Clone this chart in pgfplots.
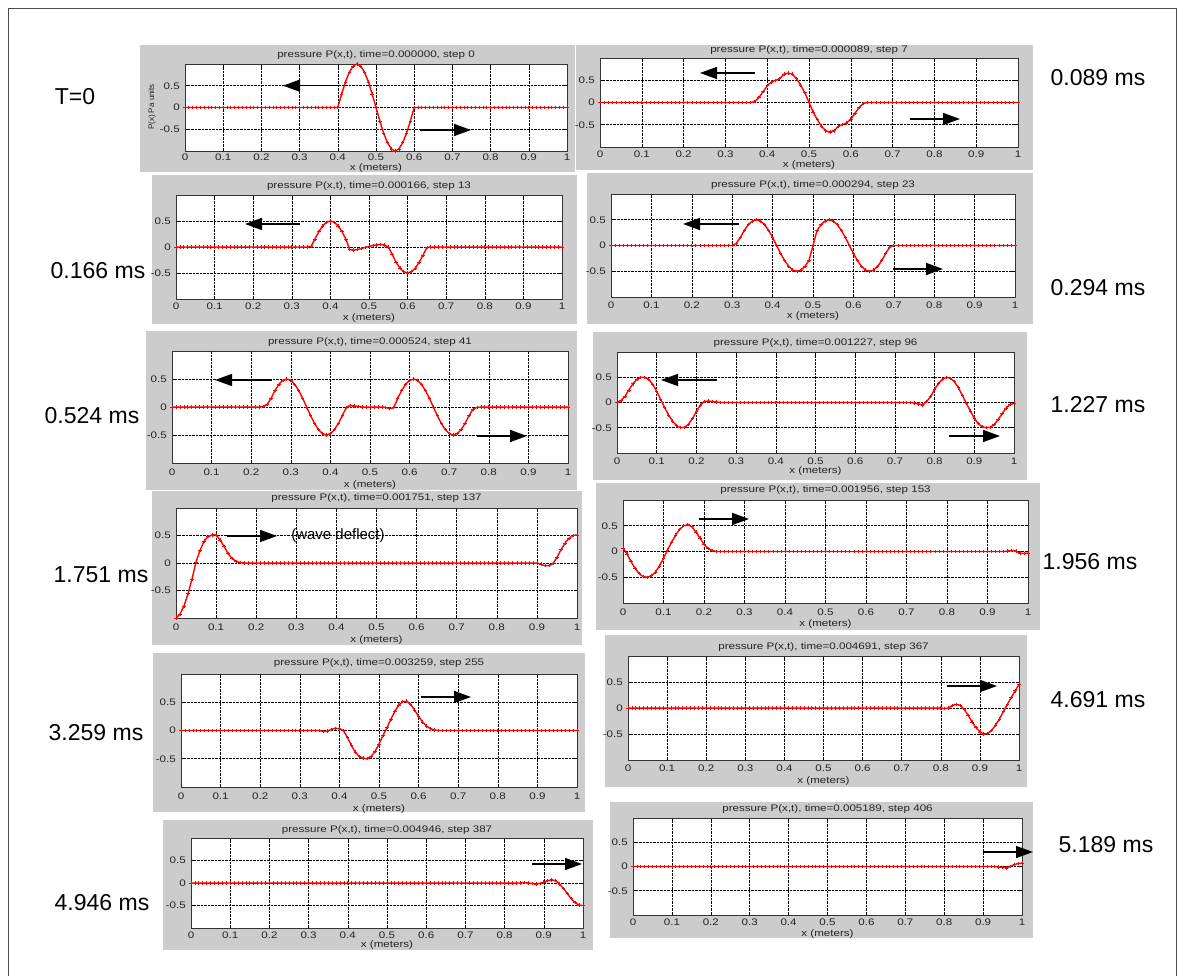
\documentclass[border=0pt]{standalone}
\usepackage{pgfplots}
\pgfplotsset{compat=1.18}
\usepackage{pgfplotstable}
\usepackage{fontspec}
\setmainfont{Liberation Sans}
\newfontfamily\pfont[FakeStretch=1.22]{Liberation Sans}
\usetikzlibrary{arrows.meta}
\definecolor{mgray}{RGB}{204,204,204}
\definecolor{mred}{RGB}{255,0,0}
\definecolor{tcol}{RGB}{35,35,35}
\pgfplotstableread{
x a b c d e f g h i j k l
0.00 0 0 0 0 0 0 -1 0.07 0 0 0 0
0.01 0 0 0 0 0 0.04 -0.93 -0.05 0 0 0 0
0.02 0 0 0 0 0 0.12 -0.78 -0.2 0 0 0 0
0.03 0 0 0 0 0 0.25 -0.56 -0.33 0 0 0 0
0.04 0 0 0 0 0 0.37 -0.29 -0.43 0 0 0 0
0.05 0 0 0 0 0 0.46 0.02 -0.49 0 0 0 0
0.06 0 0 0 0 0 0.5 0.23 -0.5 0 0 0 0
0.07 0 0 0 0 0 0.5 0.4 -0.47 0 0 0 0
0.08 0 0 0 0 0 0.46 0.48 -0.4 0 0 0 0
0.09 0 0 0 0 0 0.36 0.51 -0.28 0 0 0 0
0.10 0 0 0 0 0 0.22 0.51 -0.13 0 0 0 0
0.11 0 0 0 0 0 0.06 0.42 0.03 0 0 0 0
0.12 0 0 0 0 0 -0.1 0.3 0.18 0 0 0 0
0.13 0 0 0 0 0 -0.25 0.17 0.32 0 0 0 0
0.14 0 0 0 0 0 -0.37 0.08 0.43 0 0 0 0
0.15 0 0 0 0 0 -0.46 0.03 0.5 0 0 0 0
0.16 0 0 0 0 0 -0.5 0.01 0.52 0 0 0 0
0.17 0 0 0 0 0 -0.49 0 0.48 0 0 0 0
0.18 0 0 0 0 0 -0.43 0 0.38 0 0 0 0
0.19 0 0 0 0 0 -0.32 0 0.26 0 0 0 0
0.20 0 0 0 0 0 -0.18 0 0.14 0 0 0 0
0.21 0 0 0 0 0 -0.05 0 0.06 0 0 0 0
0.22 0 0 0 0 0 0.02 0 0.02 0 0 0 0
0.23 0 0 0 0 0.01 0.03 0 0 0 0 0 0
0.24 0 0 0 0 0.04 0.02 0 0 0 0 0 0
0.25 0 0 0 0 0.155 0.01 0 0 0 0 0 0
0.26 0 0 0 0 0.294 0 0 0 0 0 0 0
0.27 0 0 0 0 0.405 0 0 0 0 0 0 0
0.28 0 0 0 0 0.476 0 0 0 0 0 0 0
0.29 0 0 0 0 0.5 0 0 0 0 0 0 0
0.30 0 0 0 0 0.476 0 0 0 0 0 0 0
0.31 0 0 0 0.04 0.405 0 0 0 0 0 0 0
0.32 0 0 0 0.155 0.294 0 0 0 0 0 0 0
0.33 0 0 0 0.294 0.155 0 0 0 0 0 0 0
0.34 0 0 0 0.405 0 0 0 0 0 0 0 0
0.35 0 0 0.01 0.476 -0.155 0 0 0 0 0 0 0
0.36 0 0 0.155 0.5 -0.294 0 0 0 -0.02 0 0 0
0.37 0 0.02 0.294 0.476 -0.405 0 0 0 -0.01 0 0 0
0.38 0 0.109 0.405 0.405 -0.476 0 0 0 0.02 0 0 0
0.39 0 0.241 0.476 0.294 -0.5 0 0 0 0.04 0 0 0
0.40 0 0.375 0.5 0.155 -0.476 0 0 0 0.03 0 0 0
0.41 0.309 0.459 0.476 0 -0.405 0 0 0 0 0 0 0
0.42 0.588 0.498 0.405 -0.155 -0.294 0 0 0 -0.12 0 0 0
0.43 0.809 0.535 0.294 -0.294 -0.155 0 0 0 -0.26 0 0 0
0.44 0.951 0.637 0.155 -0.405 -0.01 0 0 0 -0.38 0 0 0
0.45 1 0.661 -0.05 -0.476 0.03 0 0 0 -0.46 0 0 0
0.46 0.951 0.637 -0.06 -0.5 0.02 0 0 0 -0.49 0 0 0
0.47 0.809 0.535 -0.05 -0.476 0.01 0 0 0 -0.5 0 0 0
0.48 0.588 0.389 -0.03 -0.405 0 0 0 0 -0.46 0 0 0
0.49 0.309 0.218 -0.01 -0.294 0 0 0 0 -0.37 0 0 0
0.50 0 0 0.01 0 0 0 0 0 -0.24 0 0 0
0.51 -0.309 -0.218 0.03 0.294 0 0 0 0 -0.09 0 0 0
0.52 -0.588 -0.389 0.04 0.405 0 0 0 0 0.05 0 0 0
0.53 -0.809 -0.535 0.05 0.476 0 0 0 0 0.2 0 0 0
0.54 -0.951 -0.637 0.04 0.5 -0.01 0 0 0 0.34 0 0 0
0.55 -1 -0.661 0 0.476 -0.03 0 0 0 0.45 0 0 0
0.56 -0.951 -0.637 -0.14 0.405 -0.01 0 0 0 0.51 0 0 0
0.57 -0.809 -0.535 -0.294 0.294 0.155 0 0 0 0.52 0 0 0
0.58 -0.588 -0.498 -0.405 0.155 0.294 0 0 0 0.46 0 0 0
0.59 -0.309 -0.459 -0.476 0 0.405 0 0 0 0.36 0 0 0
0.60 0 -0.375 -0.5 -0.155 0.476 0 0 0 0.25 0 0 0
0.61 0 -0.241 -0.476 -0.294 0.5 0 0 0 0.15 0 0 0
0.62 0 -0.109 -0.405 -0.405 0.476 0 0 0 0.08 0 0 0
0.63 0 -0.02 -0.294 -0.476 0.405 0 0 0 0.03 0 0 0
0.64 0 0 -0.155 -0.5 0.294 0 0 0 0.01 0 0 0
0.65 0 0 -0.01 -0.476 0.155 0 0 0 0 0 0 0
0.66 0 0 0 -0.405 0 0 0 0 0 0 0 0
0.67 0 0 0 -0.294 -0.155 0 0 0 0 0 0 0
0.68 0 0 0 -0.155 -0.294 0 0 0 0 0 0 0
0.69 0 0 0 -0.03 -0.405 0 0 0 0 0 0 0
0.70 0 0 0 0 -0.476 0 0 0 0 0 0 0
0.71 0 0 0 0 -0.5 0 0 0 0 0 0 0
0.72 0 0 0 0 -0.476 0 0 0 0 0 0 0
0.73 0 0 0 0 -0.405 0 0 0 0 0 0 0
0.74 0 0 0 0 -0.294 0 0 0 0 0 0 0
0.75 0 0 0 0 -0.155 -0.01 0 0 0 0 0 0
0.76 0 0 0 0 -0.04 -0.03 0 0 0 0 0 0
0.77 0 0 0 0 -0.01 -0.05 0 0 0 0 0 0
0.78 0 0 0 0 0 0.02 0 0 0 0 0 0
0.79 0 0 0 0 0 0.12 0 0 0 0 0 0
0.80 0 0 0 0 0 0.26 0 0 0 0 0 0
0.81 0 0 0 0 0 0.38 0 0 0 -0.01 0 0
0.82 0 0 0 0 0 0.46 0 0 0 0 0 0
0.83 0 0 0 0 0 0.5 0 0 0 0.05 0 0
0.84 0 0 0 0 0 0.48 0 0 0 0.07 0 0
0.85 0 0 0 0 0 0.41 0 0 0 0.05 0.01 0
0.86 0 0 0 0 0 0.29 0 0 0 -0.03 0 0
0.87 0 0 0 0 0 0.14 0 0 0 -0.14 -0.01 0
0.88 0 0 0 0 0 -0.02 0 0 0 -0.27 -0.02 0
0.89 0 0 0 0 0 -0.17 0 0 0 -0.38 -0.01 0
0.90 0 0 0 0 0 -0.31 0 0 0 -0.46 0.02 0
0.91 0 0 0 0 0 -0.42 -0.02 0 0 -0.5 0.05 0
0.92 0 0 0 0 0 -0.48 -0.05 0 0 -0.49 0.07 0
0.93 0 0 0 0 0 -0.5 -0.05 0 0 -0.43 0.05 0
0.94 0 0 0 0 0 -0.49 -0.01 0 0 -0.33 -0.02 -0.01
0.95 0 0 0 0 0 -0.44 0.1 0.01 0 -0.21 -0.12 -0.02
0.96 0 0 0 0 0 -0.34 0.24 0.02 0 -0.07 -0.24 -0.03
0.97 0 0 0 0 0 -0.22 0.36 0.01 0 0.07 -0.35 0
0.98 0 0 0 0 0 -0.11 0.45 -0.03 0 0.2 -0.44 0.04
0.99 0 0 0 0 0 -0.04 0.5 -0.04 0 0.33 -0.49 0.06
1.00 0 0 0 0 0 -0.02 0.51 -0.03 0 0.45 -0.5 0.07
}\wavedata
\pgfplotsset{
 every axis title shift=0pt,
 panel/.style n args={3}{
  scale only axis, anchor=south west,
  xmin=0, xmax=1, ymin=-1, ymax=1,
  xtick={0,0.1,0.2,0.3,0.4,0.5,0.6,0.7,0.8,0.9,1},
  xticklabels={0,0.1,0.2,0.3,0.4,0.5,0.6,0.7,0.8,0.9,1},
  ytick={-0.5,0,0.5}, yticklabels={-0.5,0,0.5},
  /pgf/number format/assume math mode=true,
  xmajorgrids, ymajorgrids,
  major grid style={black, densely dotted, line width=0.5pt},
  tick align=inside, major tick length=3pt,
  tick style={black, line width=0.5pt},
  axis line style={black!80, line width=0.7pt},
  axis background/.style={fill=white},
  tick label style={font=\pfont\fontsize{9.5}{11}\selectfont, text=tcol},
  xticklabel style={inner sep=0pt, yshift=-#1},
  yticklabel style={inner sep=0pt, xshift=-5pt},
  xlabel={x (meters)},
  xlabel style={at={(axis description cs:0.5,0)}, anchor=center, yshift=-#2, font=\pfont\fontsize{9.5}{11}\selectfont, text=tcol},
  title style={at={(axis description cs:0.5,1)}, anchor=center, inner sep=0pt, yshift=#3, font=\pfont\fontsize{9.5}{11}\selectfont, text=tcol},
 },
 wave/.style={mred, line width=1.4pt, mark=+, mark size=1.7pt, mark options={line width=0.7pt}},
}
\tikzset{arr/.style={black, line width=1.6pt, -{Triangle[length=17pt,width=12pt]}},
 side/.style={font=\fontsize{23}{27}\selectfont, text=black}}
\begin{document}
\begin{tikzpicture}
\useasboundingbox (0pt,0pt) rectangle (1183pt,976pt);
\fill[white] (0pt,0pt) rectangle (1183pt,976pt);
\draw[black!70, line width=0.8pt] (8pt,0pt) -- (8pt,968pt) -- (1176pt,968pt) -- (1176pt,0pt);
% panel 1
\fill[mgray] (140pt,804pt) rectangle (575pt,931pt);
\begin{axis}[panel={2.9pt}{16.7pt}{9pt}, at={(185pt,825pt)}, width=382pt, height=87pt, title={pressure P(x,t), time=0.000000, step 0}]
\addplot[wave] table[x=x,y=a]{\wavedata};
\end{axis}
\node[rotate=90, font=\fontsize{8}{9}\selectfont, text=tcol] at (152pt,869pt) {P(x) Pa units};
% panel 2
\fill[mgray] (576pt,806pt) rectangle (1033pt,931pt);
\begin{axis}[panel={3.9pt}{18.3pt}{8pt}, at={(600pt,829pt)}, width=418pt, height=89pt, title={pressure P(x,t), time=0.000089, step 7}]
\addplot[wave] table[x=x,y=b]{\wavedata};
\end{axis}
% panel 3
\fill[mgray] (152pt,652pt) rectangle (577pt,801pt);
\begin{axis}[panel={4pt}{19pt}{9pt}, at={(176pt,677pt)}, width=386pt, height=104pt, title={pressure P(x,t), time=0.000166, step 13}]
\addplot[wave] table[x=x,y=c]{\wavedata};
\end{axis}
% panel 4
\fill[mgray] (587pt,652pt) rectangle (1033pt,803pt);
\begin{axis}[panel={5pt}{19.4pt}{9pt}, at={(611pt,679pt)}, width=404pt, height=103pt, title={pressure P(x,t), time=0.000294, step 23}]
\addplot[wave] table[x=x,y=d]{\wavedata};
\end{axis}
% panel 5
\fill[mgray] (146pt,486pt) rectangle (577pt,645pt);
\begin{axis}[panel={5.6pt}{22.3pt}{9.3pt}, at={(172pt,513pt)}, width=396pt, height=112pt, title={pressure P(x,t), time=0.000524, step 41}]
\addplot[wave] table[x=x,y=e]{\wavedata};
\end{axis}
% panel 6
\fill[mgray] (593pt,496pt) rectangle (1027pt,644pt);
\begin{axis}[panel={5pt}{18.4pt}{8.7pt}, at={(617pt,523pt)}, width=397pt, height=101pt, title={pressure P(x,t), time=0.001227, step 96}]
\addplot[wave] table[x=x,y=f]{\wavedata};
\end{axis}
% panel 7
\fill[mgray] (152pt,331pt) rectangle (582pt,485pt);
\begin{axis}[panel={6pt}{21.7pt}{10.3pt}, at={(176pt,358pt)}, width=401pt, height=110pt, title={pressure P(x,t), time=0.001751, step 137}]
\addplot[wave] table[x=x,y=g]{\wavedata};
\end{axis}
% panel 8
\fill[mgray] (596pt,346pt) rectangle (1040pt,493pt);
\begin{axis}[panel={5.6pt}{20.7pt}{10.3pt}, at={(623pt,373pt)}, width=405pt, height=103pt, title={pressure P(x,t), time=0.001956, step 153}]
\addplot[wave] table[x=x,y=h]{\wavedata};
\end{axis}
% panel 9
\fill[mgray] (153pt,164pt) rectangle (585pt,323pt);
\begin{axis}[panel={5.6pt}{21.6pt}{10.7pt}, at={(181pt,189pt)}, width=396pt, height=113pt, title={pressure P(x,t), time=0.003259, step 255}]
\addplot[wave] table[x=x,y=i]{\wavedata};
\end{axis}
% panel 10
\fill[mgray] (605pt,189pt) rectangle (1027pt,341pt);
\begin{axis}[panel={4.9pt}{20.7pt}{9.3pt}, at={(628pt,216pt)}, width=391pt, height=104pt, title={pressure P(x,t), time=0.004691, step 367}]
\addplot[wave] table[x=x,y=j]{\wavedata};
\end{axis}
% panel 11
\fill[mgray] (163pt,26pt) rectangle (593pt,156pt);
\begin{axis}[panel={3.3pt}{16.7pt}{8pt}, at={(191pt,48pt)}, width=392pt, height=90pt, title={pressure P(x,t), time=0.004946, step 387}]
\addplot[wave] table[x=x,y=k]{\wavedata};
\end{axis}
% panel 12
\fill[mgray] (610pt,38pt) rectangle (1033pt,174pt);
\begin{axis}[panel={3.9pt}{19pt}{8.7pt}, at={(633pt,61pt)}, width=389pt, height=97pt, title={pressure P(x,t), time=0.005189, step 406}]
\addplot[wave] table[x=x,y=l]{\wavedata};
\end{axis}
% arrows
\draw[arr] (338pt,890.3pt) -- (283pt,890.3pt);
\draw[arr] (420pt,846pt) -- (471pt,846pt);
\draw[arr] (755pt,903pt) -- (700pt,903pt);
\draw[arr] (910pt,857pt) -- (960pt,857pt);
\draw[arr] (300pt,752pt) -- (245pt,752pt);
\draw[arr] (739pt,752pt) -- (683pt,752pt);
\draw[arr] (893pt,707pt) -- (943pt,707pt);
\draw[arr] (272pt,596pt) -- (215pt,596pt);
\draw[arr] (477pt,540pt) -- (527pt,540pt);
\draw[arr] (717pt,596pt) -- (661pt,596pt);
\draw[arr] (949pt,540pt) -- (1000pt,540pt);
\draw[arr] (227pt,440pt) -- (277pt,440pt);
\node[font=\fontsize{15}{18}\selectfont, text=black] at (338pt,440pt) {(wave deflect)};
\draw[arr] (699pt,457pt) -- (749pt,457pt);
\draw[arr] (421pt,279pt) -- (471pt,279pt);
\draw[arr] (947pt,290pt) -- (997pt,290pt);
\draw[arr] (532pt,112pt) -- (582pt,112pt);
\draw[arr] (983pt,124pt) -- (1033pt,124pt);
% side labels
\node[side] at (75pt,879pt) {T=0};
\node[side] at (1098pt,898pt) {0.089 ms};
\node[side] at (98pt,705pt) {0.166 ms};
\node[side] at (1098pt,688pt) {0.294 ms};
\node[side] at (92pt,560pt) {0.524 ms};
\node[side] at (1098pt,571pt) {1.227 ms};
\node[side] at (101pt,401pt) {1.751 ms};
\node[side] at (1090pt,414pt) {1.956 ms};
\node[side] at (96pt,243pt) {3.259 ms};
\node[side] at (1098pt,276pt) {4.691 ms};
\node[side] at (102pt,73pt) {4.946 ms};
\node[side] at (1106pt,131pt) {5.189 ms};
\end{tikzpicture}
\end{document}
